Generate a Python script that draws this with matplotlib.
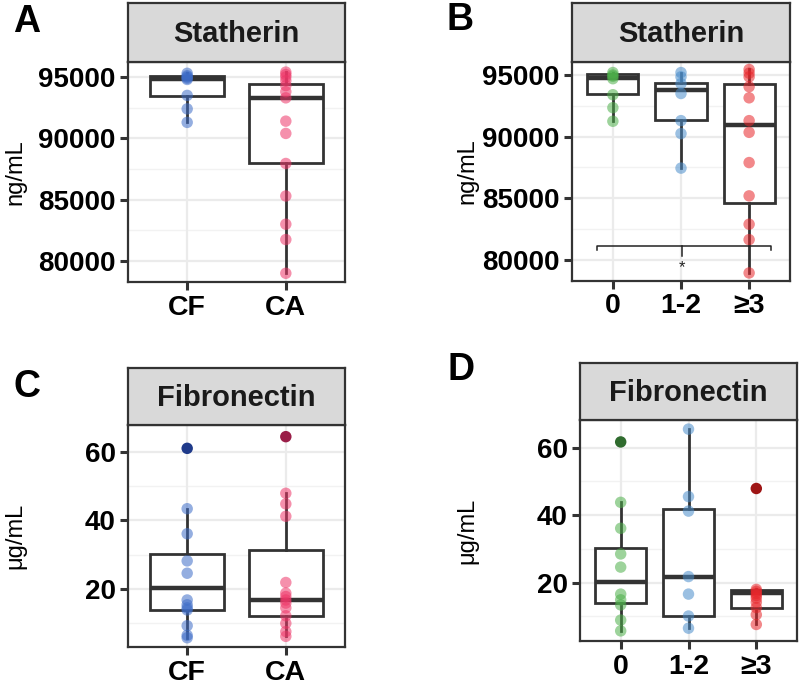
import matplotlib
matplotlib.use('Agg')
import matplotlib.pyplot as plt

plt.rcParams['font.family'] = ['Liberation Sans', 'DejaVu Sans']

# ===== DATA =====
# Statherin (ng/mL), CF vs CA
stath_groups_ab = ['CF', 'CA']
stath_cf = [95300, 95100, 95000, 94900, 94800, 93500, 92400, 91300]
stath_ca = [95400, 95200, 95000, 94700, 94300, 93800, 93300, 91400, 90400,
            87950, 85300, 83000, 81750, 79000]
# box stats: q1, median, q3, lower whisker, upper whisker
stath_cf_box = [93470, 94850, 95050, 91300, 95300]
stath_ca_box = [87950, 93250, 94400, 79000, 95400]

# Statherin by caries level
caries_groups = ['0', '1-2', '≥3']
stath_0 = [95200, 95000, 94900, 94700, 93400, 92350, 91250]
stath_12 = [95200, 94850, 94300, 93500, 91300, 90250, 87450]
stath_3 = [95450, 95150, 94850, 94050, 93150, 91300, 90350, 87900, 85200,
           82900, 81650, 78950]
stath_0_box = [93420, 94750, 95100, 91250, 95200]
stath_12_box = [91350, 93750, 94380, 87450, 95200]
stath_3_box = [84600, 90980, 94260, 78950, 95450]

# Fibronectin (ug/mL), CF vs CA
fib_cf = [43.4, 36.1, 28.2, 24.6, 16.8, 15.4, 14.5, 13.9, 9.3, 6.5, 5.8]
fib_ca = [47.9, 44.8, 41.2, 21.9, 18.8, 17.8, 16.8, 15.9, 14.5, 12.2, 10.0,
          7.6, 6.2]
fib_cf_out = [61.0]
fib_ca_out = [64.4]
fib_cf_box = [13.9, 20.4, 30.3, 5.8, 43.4]
fib_ca_box = [12.2, 16.8, 31.3, 6.2, 47.9]

# Fibronectin by caries level
fib_0 = [43.8, 36.1, 28.5, 24.6, 16.6, 14.9, 13.4, 8.9, 5.7]
fib_12 = [65.5, 45.5, 41.2, 21.8, 16.6, 10.1, 6.5]
fib_3 = [18.0, 17.4, 16.8, 16.2, 15.4, 14.2, 12.6, 10.5, 7.6]
fib_0_out = [61.7]
fib_12_out = []
fib_3_out = [47.9]
fib_0_box = [13.9, 20.1, 30.4, 5.7, 43.8]
fib_12_box = [10.0, 21.8, 41.8, 6.5, 65.5]
fib_3_box = [12.5, 16.8, 17.7, 7.6, 18.0]

# ===== STYLE =====
col_cf, col_cf_dark = '#3D6CC8', '#1F3A8A'
col_ca, col_ca_dark = '#EE3668', '#9A1E48'
col_0, col_0_dark = '#4DAF4A', '#2F6B2E'
col_12, col_12_dark = '#4A8DCB', '#2A5C8F'
col_3, col_3_dark = '#E8262B', '#9E1515'
dark = '#333333'
W, H = 800, 688

fig = plt.figure(figsize=(W / 100, H / 100), dpi=100)


def px_axes(x0, y0, x1, y1):
    return fig.add_axes([x0 / W, 1 - y1 / H, (x1 - x0) / W, (y1 - y0) / H])


def panel(box, strip_top, title, cats, stats, pts, outs, colors, out_colors,
          ylim, yticks, yminor, ylabel, letter, letter_xy, ylab_x):
    x0, y0, x1, y1 = box
    ax = px_axes(*box)
    pos = list(range(len(cats)))
    ax.set_xlim(-0.6, len(cats) - 0.4)
    ax.set_ylim(*ylim)
    # grid
    for yv in yticks:
        ax.axhline(yv, color='#EBEBEB', lw=1.6, zorder=0)
    for yv in yminor:
        ax.axhline(yv, color='#F2F2F2', lw=1.0, zorder=0)
    for xv in pos:
        ax.axvline(xv, color='#EBEBEB', lw=1.6, zorder=0)
    bstats = []
    for s, c in zip(stats, cats):
        bstats.append(dict(q1=s[0], med=s[1], q3=s[2], whislo=s[3],
                           whishi=s[4], label=c))
    ax.bxp(bstats, positions=pos, widths=0.75, showfliers=False,
           patch_artist=True, showcaps=False,
           boxprops=dict(facecolor='white', edgecolor=dark, lw=2.0),
           whiskerprops=dict(color=dark, lw=2.0),
           medianprops=dict(color=dark, lw=3.2), zorder=2)
    for p, vals, o, c, oc in zip(pos, pts, outs, colors, out_colors):
        ax.scatter([p] * len(vals), vals, s=68, color=c, alpha=0.55,
                   edgecolors='none', zorder=3)
        if o:
            ax.scatter([p] * len(o), o, s=68, color=oc, alpha=1,
                       edgecolors='none', zorder=3)
    ax.set_xticks(pos)
    ax.set_xticklabels(cats, fontsize=20.5, fontweight='bold')
    ax.set_yticks(yticks)
    ax.set_yticklabels([str(v) for v in yticks], fontsize=20,
                       fontweight='bold')
    ax.tick_params(length=6, width=2.2, color=dark, pad=3)
    ax.tick_params(axis='x', pad=3)
    for sp in ax.spines.values():
        sp.set_color(dark)
        sp.set_linewidth(1.6)
    fig.text(ylab_x / W, 1 - (y0 + y1) / 2 / H, ylabel, rotation=90,
             ha='center', va='center', fontsize=17)
    # strip on top
    sax = px_axes(x0, strip_top, x1, y0)
    sax.set_facecolor('#D9D9D9')
    sax.set_xticks([])
    sax.set_yticks([])
    for sp in sax.spines.values():
        sp.set_color(dark)
        sp.set_linewidth(1.6)
    sax.text(0.5, 0.48, title, ha='center', va='center', fontsize=21,
             fontweight='bold', color='#1A1A1A', transform=sax.transAxes)
    fig.text(letter_xy[0] / W, 1 - letter_xy[1] / H, letter, fontsize=27,
             fontweight='bold', ha='center', va='center')
    return ax


# A
panel((128, 62, 345, 282), 3, 'Statherin', stath_groups_ab,
      [stath_cf_box, stath_ca_box], [stath_cf, stath_ca], [[], []],
      [col_cf, col_ca], [col_cf_dark, col_ca_dark],
      (78289, 96222), [80000, 85000, 90000, 95000], [82500, 87500, 92500],
      'ng/mL', 'A', (27, 22), 15)

# B
axb = panel((572, 62, 790, 281), 3, 'Statherin', caries_groups,
            [stath_0_box, stath_12_box, stath_3_box],
            [stath_0, stath_12, stath_3], [[], [], []],
            [col_0, col_12, col_3], [col_0_dark, col_12_dark, col_3_dark],
            (78297, 96054), [80000, 85000, 90000, 95000],
            [82500, 87500, 92500], 'ng/mL', 'B', (460, 20), 467)
# significance bracket 0 vs >=3
sig_y = 81150
axb.plot([-0.23, -0.23, 2.32, 2.32], [sig_y - 330, sig_y, sig_y, sig_y - 330],
         color='#222222', lw=1.1, zorder=4)
axb.plot([1.02, 1.02], [sig_y, sig_y - 850], color='#222222', lw=1.1,
         zorder=4)
axb.text(1.02, sig_y - 1750, '*', ha='center', va='center', fontsize=12,
         color='#222222', zorder=4)

# C
panel((128, 425, 345, 647), 368, 'Fibronectin', stath_groups_ab,
      [fib_cf_box, fib_ca_box], [fib_cf, fib_ca], [fib_cf_out, fib_ca_out],
      [col_cf, col_ca], [col_cf_dark, col_ca_dark],
      (3.1, 67.8), [20, 40, 60], [10, 30, 50], 'μg/mL', 'C', (27, 387), 15)

# D
panel((580, 420, 797, 641), 363, 'Fibronectin', caries_groups,
      [fib_0_box, fib_12_box, fib_3_box], [fib_0, fib_12, fib_3],
      [fib_0_out, fib_12_out, fib_3_out],
      [col_0, col_12, col_3], [col_0_dark, col_12_dark, col_3_dark],
      (2.7, 68.2), [20, 40, 60], [10, 30, 50], 'μg/mL', 'D', (461, 370), 467)

fig.savefig('out.png', dpi=100)
